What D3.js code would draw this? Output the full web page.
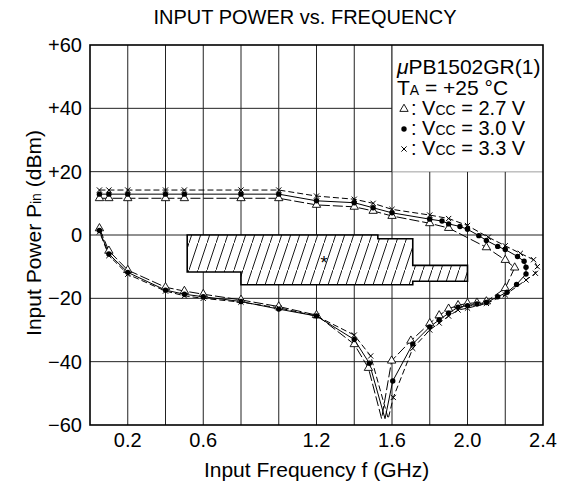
<!DOCTYPE html>
<html><head><meta charset="utf-8">
<script src="https://cdn.jsdelivr.net/npm/d3@7"></script>
<style>
body{margin:0;background:#fff}
text{font-family:"Liberation Sans",Arial,Helvetica,sans-serif;fill:#000}
</style>
</head><body>
<svg id="c" width="566" height="486"></svg>
<script>
// ---------- data ----------
const xTickLabels = [0.2, 0.6, 1.2, 1.6, 2.0, 2.4];
const xGrid = [0.2,0.4,0.6,0.8,1.0,1.2,1.4,1.6,1.8,2.0,2.2];
const yTicks = [-60, -40, -20, 0, 20, 40, 60];

// path order: upper branch (low f -> high f), turnaround, lower branch (high f -> low f)
const vcc27 = [[0.05,11.6],[0.1,11.6],[0.2,11.6],[0.4,11.6],[0.5,11.6],[0.8,11.6],[1.0,11.6],[1.2,9.5],[1.4,8.9],[1.5,7.6],[1.6,6.0],[1.8,3.7],[1.9,2.2],[2.1,-3.9],[2.2,-7.9],[2.25,-10.3],[2.2,-16.8],[2.1,-21.0],[2.05,-21.4],[2.0,-21.6],[1.95,-22.2],[1.9,-23.3],[1.85,-25.4],[1.8,-27.9],[1.7,-33.4],[1.598,-39.7],[1.545,-58],[1.475,-42.0],[1.4,-34.5],[1.2,-25.3],[1.0,-22.6],[0.8,-20.5],[0.6,-18.7],[0.5,-17.7],[0.4,-16.5],[0.2,-11.1],[0.1,-5.0],[0.05,2.1]];
const vcc30 = [[0.05,12.9],[0.1,12.9],[0.2,12.9],[0.4,12.9],[0.5,12.9],[0.8,12.9],[1.0,12.9],[1.2,10.8],[1.4,10.2],[1.5,8.6],[1.6,7.0],[1.8,5.0],[1.865,4.4],[1.9,3.5],[1.96,2.7],[2.0,1.8],[2.06,-0.2],[2.1,-1.7],[2.16,-3.6],[2.2,-4.6],[2.265,-6.8],[2.3,-8.3],[2.31,-10.2],[2.31,-12.3],[2.26,-15.6],[2.21,-18.1],[2.16,-19.5],[2.1,-21.3],[2.05,-21.8],[2.0,-22.3],[1.95,-22.8],[1.9,-24.7],[1.85,-26.8],[1.8,-29.0],[1.71,-34.4],[1.604,-46.1],[1.563,-58],[1.48,-40.5],[1.4,-33.0],[1.2,-25.6],[1.0,-23.4],[0.8,-21.0],[0.6,-19.5],[0.5,-18.7],[0.4,-17.4],[0.2,-11.8],[0.1,-6.0],[0.05,1.4]];
const vcc33 = [[0.05,14.2],[0.1,14.2],[0.2,14.2],[0.4,14.2],[0.5,14.2],[0.8,14.2],[1.0,14.2],[1.2,12.3],[1.4,11.3],[1.5,10.0],[1.6,8.1],[1.8,6.3],[1.9,5.2],[2.0,3.0],[2.11,-0.7],[2.2,-3.4],[2.28,-5.8],[2.35,-7.8],[2.37,-10.0],[2.36,-12.1],[2.31,-14.2],[2.2,-18.9],[2.1,-21.6],[2.0,-23.1],[1.95,-23.7],[1.9,-25.6],[1.85,-27.8],[1.8,-30.0],[1.71,-35.8],[1.607,-51.3],[1.58,-58],[1.487,-38.2],[1.4,-31.6],[1.2,-25.6],[1.0,-23.0],[0.8,-21.2],[0.6,-20.0],[0.5,-19.2],[0.4,-17.7],[0.2,-12.4],[0.1,-6.5],[0.05,1.0]];

// hatched region outline [GHz, dBm]
const hatchRegion = [[0.515,0],[1.525,0],[1.525,-1.2],[1.71,-1.2],[1.71,-9.6],[2.0,-9.6],[2.0,-14.6],[1.71,-14.6],[1.71,-15.7],[0.8,-15.7],[0.8,-11.7],[0.515,-11.7]];
const starPoint = [1.24, -7.9];

const seriesNames = ["2.7 V", "3.0 V", "3.3 V"];
const seriesMarkers = ["triangle", "dot", "cross"];

// ---------- chart ----------
const svg = d3.select("#c");
const L = 90, R = 543, T = 45, B = 425;
const x = d3.scaleLinear().domain([0, 2.4]).range([L, R]);
const y = d3.scaleLinear().domain([-60, 60]).range([B, T]);

svg.append("rect").attr("width",566).attr("height",486).attr("fill","#fff");

// defs: hatch pattern
const defs = svg.append("defs");
const pat = defs.append("pattern").attr("id","hatch").attr("patternUnits","userSpaceOnUse")
  .attr("width",9).attr("height",27);
pat.append("rect").attr("width",9).attr("height",27).attr("fill","#fff");
pat.append("line").attr("x1",0).attr("y1",27).attr("x2",9).attr("y2",0)
  .attr("stroke","#000").attr("stroke-width",0.9);

// grid
const grid = svg.append("g").attr("stroke","#222").attr("stroke-width",1);
grid.selectAll("line.v").data(xGrid).join("line")
  .attr("x1",d=>x(d)).attr("x2",d=>x(d)).attr("y1",T).attr("y2",B);
grid.selectAll("line.h").data(yTicks.filter(d=>d>-60&&d<60)).join("line")
  .attr("x1",L).attr("x2",R).attr("y1",d=>y(d)).attr("y2",d=>y(d));

// legend box (blanks grid)
const legX = 392, legY2 = y(20);
svg.append("rect").attr("x",legX).attr("y",T).attr("width",R-legX).attr("height",legY2-T).attr("fill","#fff");
svg.append("line").attr("x1",legX).attr("x2",legX).attr("y1",T).attr("y2",legY2).attr("stroke","#222").attr("stroke-width",1);

// hatched region
const poly = d3.line().x(d=>x(d[0])).y(d=>y(d[1]));
svg.append("path").attr("d", poly(hatchRegion)+"Z").attr("fill","url(#hatch)")
  .attr("stroke","#000").attr("stroke-width",1.6);
svg.append("text").attr("x",x(starPoint[0])).attr("y",y(starPoint[1])+9)
  .attr("text-anchor","middle").attr("font-size",18).text("*");

// frame
svg.append("rect").attr("x",L).attr("y",T).attr("width",R-L).attr("height",B-T)
  .attr("fill","none").attr("stroke","#000").attr("stroke-width",1.6);

// series
const allSeries = [vcc27, vcc30, vcc33];
const dashes = ["10,3", null, "6,3"];
const line = d3.line().x(d=>x(d[0])).y(d=>y(d[1]));
const crossPath = "M-2.6,-2.6L2.6,2.6M-2.6,2.6L2.6,-2.6";
const triPath = d3.symbol().type(d3.symbolTriangle).size(30)();

function drawMarker(g, type, px, py) {
  if (type === "triangle") {
    g.append("path").attr("d",triPath).attr("transform",`translate(${px},${py})`)
      .attr("fill","#fff").attr("stroke","#000").attr("stroke-width",0.9);
  } else if (type === "dot") {
    g.append("circle").attr("cx",px).attr("cy",py).attr("r",2.7).attr("fill","#000");
  } else {
    g.append("path").attr("d",crossPath).attr("transform",`translate(${px},${py})`)
      .attr("stroke","#000").attr("stroke-width",1).attr("fill","none");
  }
}

allSeries.forEach((s,i)=>{
  svg.append("path").attr("d",line(s)).attr("fill","none").attr("stroke","#000")
    .attr("stroke-width",1).attr("stroke-dasharray",dashes[i]);
});
allSeries.forEach((s,i)=>{
  const g = svg.append("g");
  s.filter(d=>d[1] > -55).forEach(d=>drawMarker(g, seriesMarkers[i], x(d[0]), y(d[1])));
});

// axes labels
const fmtY = d => d>0 ? "+"+d : d<0 ? "\u2212"+Math.abs(d) : "0";
svg.append("g").selectAll("text").data(yTicks).join("text")
  .attr("x",L-8).attr("y",d=>y(d)+7).attr("text-anchor","end").attr("font-size",20)
  .text(fmtY);
svg.append("g").selectAll("text").data(xTickLabels).join("text")
  .attr("x",d=>x(d)).attr("y",447).attr("text-anchor","middle").attr("font-size",20)
  .text(d=>d.toFixed(1));

svg.append("text").attr("x",(L+R)/2).attr("y",477).attr("text-anchor","middle")
  .attr("font-size",21).text("Input Frequency f (GHz)");

const yl = svg.append("text").attr("transform","translate(41,233) rotate(-90)")
  .attr("text-anchor","middle").attr("font-size",21);
yl.append("tspan").text("Input Power P");
yl.append("tspan").attr("font-size",14).text("in");
yl.append("tspan").text(" (dBm)");

svg.append("text").attr("x",305).attr("y",24).attr("text-anchor","middle")
  .attr("font-size",20).text("INPUT POWER vs. FREQUENCY");

// legend
const lg = svg.append("g");
const t1 = lg.append("text").attr("x",397).attr("y",74).attr("font-size",21);
t1.append("tspan").attr("font-style","italic").text("\u03bc");
t1.append("tspan").text("PB1502GR(1)");
const t2 = lg.append("text").attr("x",397).attr("y",95).attr("font-size",21);
t2.append("tspan").text("T");
t2.append("tspan").attr("font-size",14).text("A");
t2.append("tspan").text(" = +25 \u00b0C");
seriesNames.forEach((n,i)=>{
  const by = 115 + i*20;
  drawMarker(lg, seriesMarkers[i], 404, by-6);
  const t = lg.append("text").attr("x",411).attr("y",by).attr("font-size",20);
  t.append("tspan").text(": V");
  t.append("tspan").attr("font-size",14).text("CC");
  t.append("tspan").text(" = " + n);
});
</script>
</body></html>
